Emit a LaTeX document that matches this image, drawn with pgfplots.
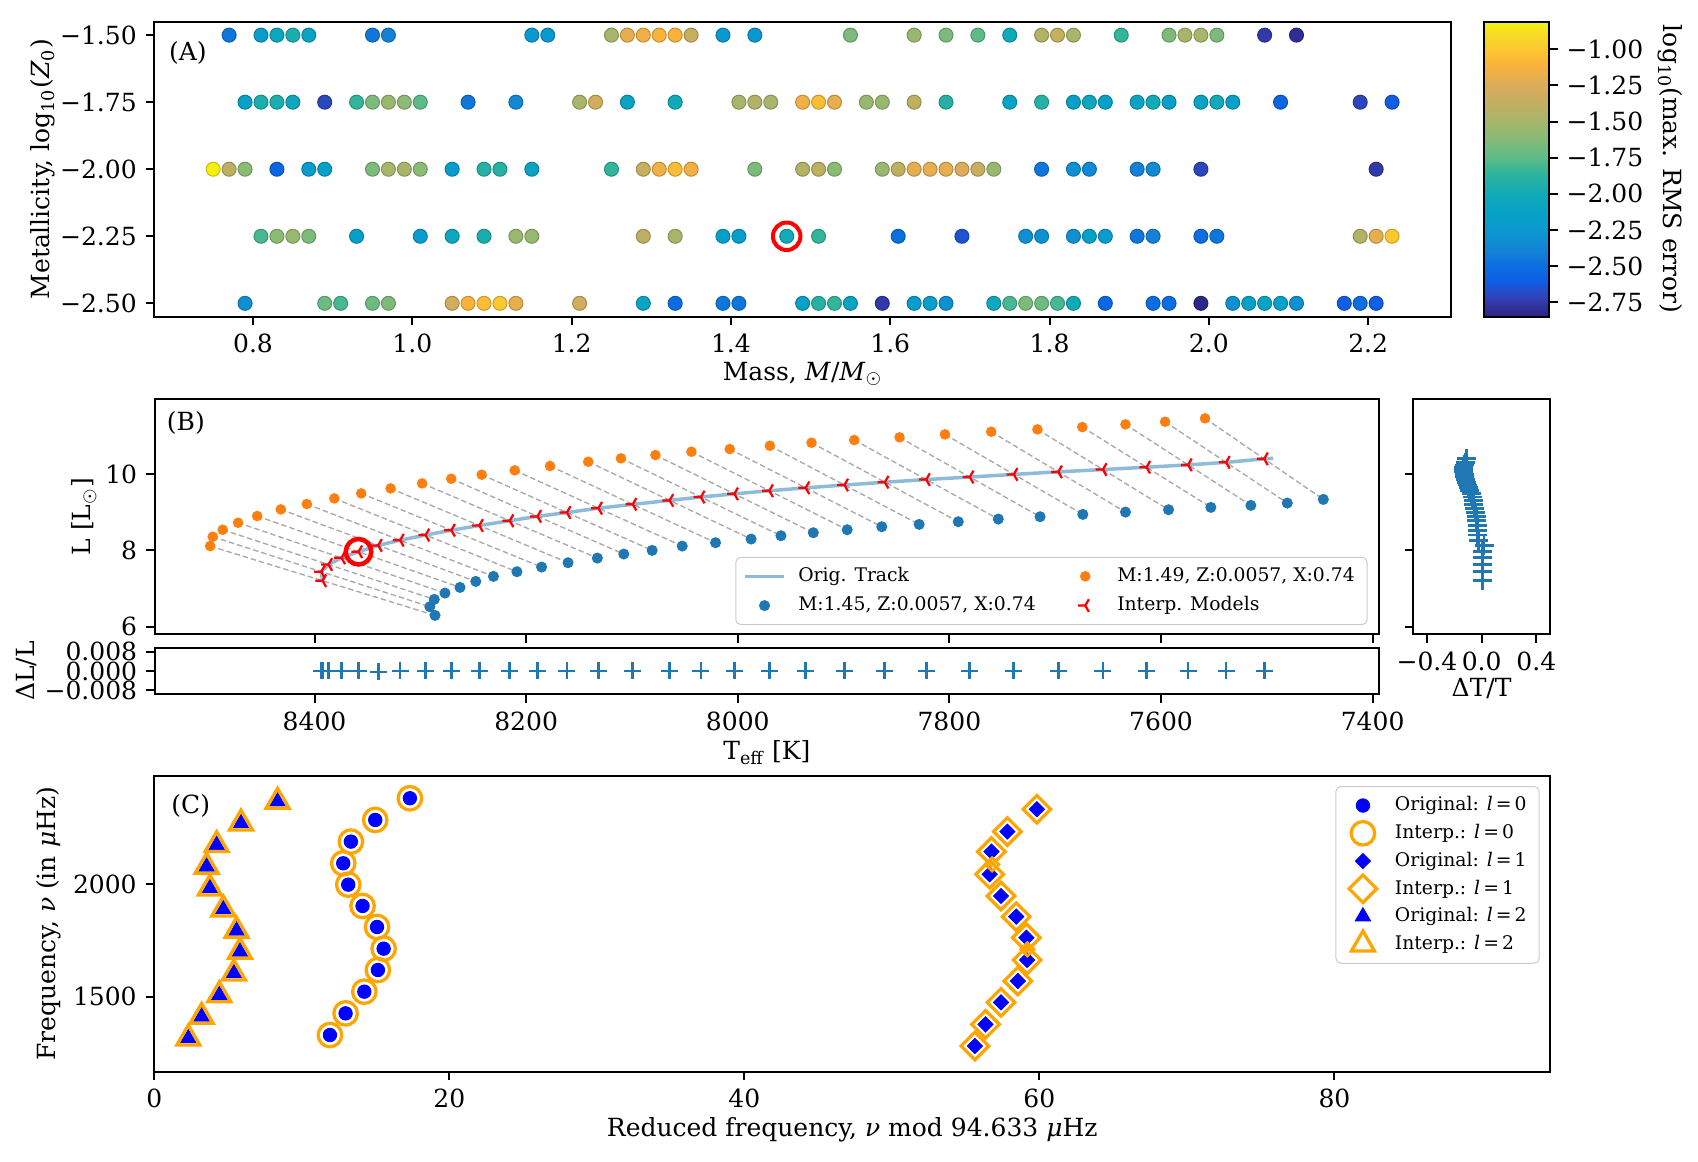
\documentclass[border=0pt]{standalone}
\usepackage{fontspec}
\setmainfont{DejaVu Serif}
\usepackage{pgfplots}
\usepackage{pgfplotstable}
\pgfplotsset{compat=1.18}
\usetikzlibrary{plotmarks}

\definecolor{tabblue}{RGB}{31,119,180}
\definecolor{taborange}{RGB}{255,127,14}
\definecolor{mplorange}{RGB}{255,165,0}
\definecolor{legframe}{RGB}{204,204,204}
\definecolor{dashgray}{RGB}{170,170,170}

\pgfplotsset{
  colormap={myparula}{
    rgb255(0pt)=(44,36,128);
    rgb255(10pt)=(51,57,168);
    rgb255(15pt)=(44,70,190);
    rgb255(25pt)=(15,94,227);
    rgb255(35pt)=(11,110,224);
    rgb255(45pt)=(20,129,214);
    rgb255(60pt)=(11,152,207);
    rgb255(70pt)=(7,160,201);
    rgb255(85pt)=(16,170,184);
    rgb255(100pt)=(50,181,154);
    rgb255(110pt)=(93,187,136);
    rgb255(125pt)=(140,187,116);
    rgb255(135pt)=(167,182,107);
    rgb255(145pt)=(189,176,99);
    rgb255(160pt)=(220,172,90);
    rgb255(175pt)=(251,178,58);
    rgb255(185pt)=(252,200,48);
    rgb255(195pt)=(247,218,40);
    rgb255(204pt)=(245,242,15)
  },
  myaxis/.style={
    scale only axis,
    axis line style={line width=0.8pt},
    every tick/.style={black, line width=0.8pt},
    major tick length=3.5pt,
    tick align=outside,
    xtick pos=left, ytick pos=left,
    scaled ticks=false,
    tick label style={font=\fontsize{10}{12}\selectfont},
    label style={font=\fontsize{10}{12}\selectfont},
  },
  mplmark/.style={legend image code/.code={\path[draw=none,fill=none] (0pt,0pt) (15.6pt,0pt); \draw[##1] plot coordinates {(7.8pt,0pt)};}},
  mplline/.style={legend image code/.code={\draw[##1] (0pt,0pt) -- (15.6pt,0pt);}},
}

\pgfplotstableread{
m z c
0.77 -1.5 -2.45
0.81 -1.5 -2.2
0.83 -1.5 -2.05
0.85 -1.5 -1.95
0.87 -1.5 -2.1
0.95 -1.5 -2.45
0.97 -1.5 -2.4
1.15 -1.5 -2.25
1.17 -1.5 -2.25
1.25 -1.5 -1.5
1.27 -1.5 -1.2
1.29 -1.5 -1.15
1.31 -1.5 -1.1
1.33 -1.5 -1.1
1.35 -1.5 -1.35
1.39 -1.5 -2.25
1.43 -1.5 -2.25
1.55 -1.5 -1.65
1.63 -1.5 -1.55
1.67 -1.5 -1.65
1.71 -1.5 -1.75
1.75 -1.5 -2.0
1.79 -1.5 -1.45
1.81 -1.5 -1.35
1.83 -1.5 -1.5
1.89 -1.5 -1.85
1.95 -1.5 -1.65
1.97 -1.5 -1.5
1.99 -1.5 -1.5
2.01 -1.5 -1.65
2.07 -1.5 -2.75
2.11 -1.5 -2.8
0.79 -1.75 -2.15
0.81 -1.75 -1.95
0.83 -1.75 -1.95
0.85 -1.75 -2.05
0.89 -1.75 -2.7
0.93 -1.75 -1.85
0.95 -1.75 -1.65
0.97 -1.75 -1.55
0.99 -1.75 -1.6
1.01 -1.75 -1.75
1.07 -1.75 -2.45
1.13 -1.75 -2.35
1.21 -1.75 -1.5
1.23 -1.75 -1.3
1.27 -1.75 -2.1
1.33 -1.75 -2.0
1.41 -1.75 -1.5
1.43 -1.75 -1.45
1.45 -1.75 -1.5
1.49 -1.75 -1.15
1.51 -1.75 -1.05
1.53 -1.75 -1.2
1.57 -1.75 -1.55
1.59 -1.75 -1.55
1.63 -1.75 -1.4
1.67 -1.75 -1.9
1.75 -1.75 -2.1
1.79 -1.75 -1.9
1.83 -1.75 -2.15
1.85 -1.75 -2.05
1.87 -1.75 -2.15
1.91 -1.75 -2.1
1.93 -1.75 -2.0
1.95 -1.75 -2.15
1.99 -1.75 -2.1
2.01 -1.75 -2.0
2.03 -1.75 -2.15
2.09 -1.75 -2.55
2.19 -1.75 -2.7
2.23 -1.75 -2.6
0.75 -2.0 -0.82
0.77 -2.0 -1.4
0.79 -2.0 -1.6
0.83 -2.0 -2.55
0.87 -2.0 -2.2
0.89 -2.0 -2.15
0.95 -2.0 -1.65
0.97 -2.0 -1.5
0.99 -2.0 -1.5
1.01 -2.0 -1.6
1.05 -2.0 -2.2
1.09 -2.0 -1.9
1.11 -2.0 -1.9
1.15 -2.0 -2.1
1.25 -2.0 -1.85
1.29 -2.0 -1.35
1.31 -2.0 -1.15
1.33 -2.0 -1.05
1.35 -2.0 -1.15
1.43 -2.0 -1.65
1.49 -2.0 -1.45
1.51 -2.0 -1.4
1.53 -2.0 -1.6
1.59 -2.0 -1.55
1.61 -2.0 -1.4
1.63 -2.0 -1.2
1.65 -2.0 -1.2
1.67 -2.0 -1.2
1.69 -2.0 -1.25
1.71 -2.0 -1.35
1.73 -2.0 -1.55
1.79 -2.0 -2.45
1.83 -2.0 -2.3
1.85 -2.0 -2.35
1.91 -2.0 -2.4
1.93 -2.0 -2.35
1.99 -2.0 -2.7
2.21 -2.0 -2.75
0.81 -2.25 -1.8
0.83 -2.25 -1.6
0.85 -2.25 -1.55
0.87 -2.25 -1.65
0.93 -2.25 -2.15
1.01 -2.25 -2.2
1.05 -2.25 -2.05
1.09 -2.25 -1.95
1.13 -2.25 -1.55
1.15 -2.25 -1.55
1.29 -2.25 -1.4
1.33 -2.25 -1.5
1.39 -2.25 -2.15
1.41 -2.25 -2.2
1.47 -2.25 -2.0
1.51 -2.25 -1.85
1.61 -2.25 -2.5
1.69 -2.25 -2.65
1.77 -2.25 -2.3
1.79 -2.25 -2.3
1.83 -2.25 -2.3
1.85 -2.25 -2.15
1.87 -2.25 -2.2
1.91 -2.25 -2.45
1.93 -2.25 -2.4
1.99 -2.25 -2.5
2.01 -2.25 -2.45
2.19 -2.25 -1.45
2.21 -2.25 -1.2
2.23 -2.25 -1.0
0.79 -2.5 -2.3
0.89 -2.5 -1.7
0.91 -2.5 -1.8
0.95 -2.5 -1.7
0.97 -2.5 -1.65
1.05 -2.5 -1.3
1.07 -2.5 -1.1
1.09 -2.5 -1.05
1.11 -2.5 -1.0
1.13 -2.5 -1.2
1.21 -2.5 -1.3
1.29 -2.5 -2.1
1.33 -2.5 -2.5
1.39 -2.5 -2.45
1.41 -2.5 -2.45
1.49 -2.5 -2.15
1.51 -2.5 -1.9
1.53 -2.5 -1.85
1.55 -2.5 -2.1
1.59 -2.5 -2.75
1.63 -2.5 -2.2
1.65 -2.5 -2.15
1.67 -2.5 -2.3
1.73 -2.5 -2.05
1.75 -2.5 -1.8
1.77 -2.5 -1.65
1.79 -2.5 -1.7
1.81 -2.5 -1.8
1.83 -2.5 -2.0
1.87 -2.5 -2.55
1.93 -2.5 -2.5
1.95 -2.5 -2.5
1.99 -2.5 -2.83
2.03 -2.5 -2.3
2.05 -2.5 -2.15
2.07 -2.5 -2.1
2.09 -2.5 -2.15
2.11 -2.5 -2.3
2.17 -2.5 -2.6
2.19 -2.5 -2.5
2.21 -2.5 -2.6
}\dataA

\pgfplotstableread{
T L
8498.6 8.113
8496.2 8.358
8486.8 8.541
8472.2 8.725
8454.2 8.900
8431.9 9.074
8407.3 9.214
8381.3 9.362
8355.9 9.493
8328.1 9.624
8298.3 9.755
8270.8 9.878
8242.0 9.983
8210.8 10.096
8177.4 10.210
8141.3 10.323
8110.4 10.411
8077.8 10.498
8043.8 10.585
8007.6 10.655
7969.7 10.742
7930.3 10.821
7889.9 10.891
7847.1 10.961
7804.2 11.039
7760.5 11.109
7716.8 11.170
7674.4 11.231
7633.6 11.301
7596.2 11.371
7558.4 11.459
}\orangeT

\pgfplotstableread{
T L
8286.1 6.297
8291.0 6.524
8286.8 6.716
8276.7 6.882
8262.5 7.030
8247.6 7.188
8230.9 7.319
8208.7 7.441
8185.4 7.563
8160.4 7.677
8132.7 7.799
8107.7 7.904
8080.9 8.000
8052.5 8.113
8021.0 8.201
7987.4 8.297
7959.2 8.384
7928.6 8.463
7896.6 8.541
7863.9 8.620
7828.6 8.681
7791.6 8.751
7753.8 8.821
7714.3 8.882
7673.9 8.943
7633.6 9.004
7592.9 9.065
7552.9 9.127
7515.1 9.179
7480.7 9.240
7446.6 9.336
}\blueT

\pgfplotstableread{
T L dT dL
8392.4 7.205 0.005 0
8393.6 7.441 0.005 0
8386.8 7.629 0.005 0
8374.5 7.804 0.006 0
8358.4 7.965 0.008 0
8339.8 8.131 0.018 -0.0004
8319.1 8.267 -0.022 0
8295.0 8.402 -0.028 0
8270.7 8.528 -0.031 0
8244.3 8.651 -0.033 0
8215.5 8.777 -0.036 0
8189.3 8.891 -0.040 0
8161.5 8.992 -0.044 0
8131.7 9.105 -0.050 0
8099.2 9.206 -0.056 0
8064.4 9.310 -0.063 0
8034.8 9.398 -0.070 0
8003.2 9.481 -0.077 0
7970.2 9.563 -0.090 0
7935.8 9.638 -0.098 0
7899.2 9.712 -0.105 0
7861.0 9.786 -0.112 0
7821.9 9.856 -0.118 0
7780.7 9.922 -0.124 0
7739.1 9.991 -0.128 0
7697.1 10.057 -0.132 0
7654.9 10.118 -0.135 0
7613.7 10.179 -0.135 0
7574.4 10.240 -0.128 0
7538.5 10.306 -0.118 0
7502.5 10.398 -0.110 0
}\interpT

\pgfplotstableread{
x nu
11.91 1329.9
12.97 1426.0
14.24 1522.2
15.16 1618.3
15.55 1713.0
15.10 1809.2
14.12 1902.4
13.15 1997.0
12.81 2091.7
13.33 2187.9
14.98 2284.0
17.33 2380.2
}\lzero

\pgfplotstableread{
x nu
55.63 1281.1
56.35 1377.2
57.40 1474.8
58.54 1569.5
59.17 1662.7
59.12 1761.8
58.43 1855.0
57.40 1946.7
56.63 2042.9
56.75 2143.5
57.83 2232.3
59.83 2331.4
}\lone

\pgfplotstableread{
x nu
2.31 1315.1
3.21 1411.2
4.41 1507.4
5.40 1603.6
5.81 1699.7
5.58 1792.9
4.68 1887.6
3.77 1980.8
3.55 2076.9
4.23 2173.1
5.88 2269.2
8.36 2365.4
}\ltwo

\begin{document}
\begin{tikzpicture}
\path[use as bounding box] (0,0) rectangle (679.2pt,464.8pt);

% ---------------- Panel A ----------------
\begin{axis}[myaxis,
  at={(61.7pt,338.1pt)}, anchor=south west,
  width=518.7pt, height=118pt,
  xmin=0.676, xmax=2.304, ymin=-2.55, ymax=-1.45,
  xtick={0.8,1,1.2,1.4,1.6,1.8,2,2.2},
  xticklabels={0.8,1.0,1.2,1.4,1.6,1.8,2.0,2.2},
  ytick={-1.5,-1.75,-2,-2.25,-2.5},
  yticklabels={−1.50,−1.75,−2.00,−2.25,−2.50},
  xlabel={Mass, \textit{M}/\textit{M}$_\odot$},
  ylabel={Metallicity, log\textsubscript{10}(\textit{Z}\textsubscript{0})},
  xlabel style={at={(axis description cs:0.5,-0.194)}, anchor=center},
  ylabel style={at={(axis description cs:-0.0858,0.5)}, anchor=center},
  colormap name=myparula,
  point meta min=-2.85, point meta max=-0.81,
]
\addplot[scatter, only marks, mark=*, mark size=2.8pt, scatter src=explicit]
  table[x=m, y=z, meta=c]{\dataA};
\addplot[only marks, mark=o, mark size=5.5pt, draw=red, line width=1.6pt]
  coordinates {(1.47,-2.25)};
\node[anchor=north west, inner sep=0pt, font=\fontsize{10}{12}\selectfont] at (axis description cs:0.011,0.935) {(A)};
\end{axis}

% ---------------- Colorbar ----------------
\begin{axis}[myaxis,
  at={(593.6pt,338.1pt)}, anchor=south west,
  width=26pt, height=118pt,
  xmin=0, xmax=1, ymin=-2.85, ymax=-0.81,
  xtick=\empty,
  ytick pos=right, yticklabel pos=right,
  ytick={-2.75,-2.5,-2.25,-2,-1.75,-1.5,-1.25,-1},
  yticklabels={−2.75,−2.50,−2.25,−2.00,−1.75,−1.50,−1.25,−1.00},
  colormap name=myparula,
  point meta min=-2.85, point meta max=-0.81,
  ylabel={log\textsubscript{10}(max. RMS error)},
  every axis y label/.style={at={(axis description cs:2.86,0.5)}, rotate=-90, anchor=center, font=\fontsize{10}{12}\selectfont},
  axis on top,
]
\addplot[surf, shader=interp, point meta=y, mesh/cols=2] coordinates {
(0,-2.85) (1,-2.85)
(0,-2.75) (1,-2.75)
(0,-2.70) (1,-2.70)
(0,-2.60) (1,-2.60)
(0,-2.50) (1,-2.50)
(0,-2.40) (1,-2.40)
(0,-2.25) (1,-2.25)
(0,-2.15) (1,-2.15)
(0,-2.00) (1,-2.00)
(0,-1.85) (1,-1.85)
(0,-1.75) (1,-1.75)
(0,-1.60) (1,-1.60)
(0,-1.50) (1,-1.50)
(0,-1.40) (1,-1.40)
(0,-1.25) (1,-1.25)
(0,-1.10) (1,-1.10)
(0,-1.00) (1,-1.00)
(0,-0.90) (1,-0.90)
(0,-0.81) (1,-0.81)
};
\end{axis}

% ---------------- Panel B main ----------------
\begin{axis}[myaxis,
  at={(61.9pt,211.2pt)}, anchor=south west,
  width=489.7pt, height=93.9pt,
  x dir=reverse,
  xmin=7394, xmax=8551, ymin=5.81, ymax=11.96,
  xtick={7400,7600,7800,8000,8200,8400}, xticklabels={},
  ytick={6,8,10}, yticklabels={6,8,10},
  ylabel={L [L$_\odot$]},
  ylabel style={at={(axis description cs:-0.0578,0.5)}, anchor=center},
  unbounded coords=jump,
  legend columns=2,
  legend cell align=left,
  legend style={at={(axis description cs:0.9908,0.038)}, anchor=south east,
    font=\fontsize{7.5}{9}\selectfont, draw=legframe, rounded corners=2pt, fill=white,
    row sep=0.5pt,
    /tikz/every odd column/.append style={column sep=3pt},
    /tikz/every even column/.append style={column sep=10pt}},
]
\addlegendimage{mplline, tabblue, opacity=0.5, line width=1.4pt}
\addlegendentry{Orig. Track}
\addlegendimage{mplmark, only marks, mark=*, taborange, mark size=1.9pt}
\addlegendentry{M:1.49, Z:0.0057, X:0.74}
\addlegendimage{mplmark, only marks, mark=*, tabblue, mark size=2pt}
\addlegendentry{M:1.45, Z:0.0057, X:0.74}
\addlegendimage{mplmark, only marks, mark=Mercedes star, mark options={rotate=90}, red, mark size=2.9pt, line width=0.9pt}
\addlegendentry{Interp. Models}

\addplot[forget plot, dashgray, line width=0.55pt, dash pattern=on 2.2pt off 1.2pt] coordinates {
(8498.6,8.113)(8286.1,6.297)(nan,nan)
(8496.2,8.358)(8291.0,6.524)(nan,nan)
(8486.8,8.541)(8286.8,6.716)(nan,nan)
(8472.2,8.725)(8276.7,6.882)(nan,nan)
(8454.2,8.900)(8262.5,7.030)(nan,nan)
(8431.9,9.074)(8247.6,7.188)(nan,nan)
(8407.3,9.214)(8230.9,7.319)(nan,nan)
(8381.3,9.362)(8208.7,7.441)(nan,nan)
(8355.9,9.493)(8185.4,7.563)(nan,nan)
(8328.1,9.624)(8160.4,7.677)(nan,nan)
(8298.3,9.755)(8132.7,7.799)(nan,nan)
(8270.8,9.878)(8107.7,7.904)(nan,nan)
(8242.0,9.983)(8080.9,8.000)(nan,nan)
(8210.8,10.096)(8052.5,8.113)(nan,nan)
(8177.4,10.210)(8021.0,8.201)(nan,nan)
(8141.3,10.323)(7987.4,8.297)(nan,nan)
(8110.4,10.411)(7959.2,8.384)(nan,nan)
(8077.8,10.498)(7928.6,8.463)(nan,nan)
(8043.8,10.585)(7896.6,8.541)(nan,nan)
(8007.6,10.655)(7863.9,8.620)(nan,nan)
(7969.7,10.742)(7828.6,8.681)(nan,nan)
(7930.3,10.821)(7791.6,8.751)(nan,nan)
(7889.9,10.891)(7753.8,8.821)(nan,nan)
(7847.1,10.961)(7714.3,8.882)(nan,nan)
(7804.2,11.039)(7673.9,8.943)(nan,nan)
(7760.5,11.109)(7633.6,9.004)(nan,nan)
(7716.8,11.170)(7592.9,9.065)(nan,nan)
(7674.4,11.231)(7552.9,9.127)(nan,nan)
(7633.6,11.301)(7515.1,9.179)(nan,nan)
(7596.2,11.371)(7480.7,9.240)(nan,nan)
(7558.4,11.459)(7446.6,9.336)
};
\addplot[forget plot, only marks, mark=*, taborange, mark size=1.9pt] table[x=T,y=L]{\orangeT};
\addplot[forget plot, only marks, mark=*, tabblue, mark size=2pt] table[x=T,y=L]{\blueT};
\addplot[forget plot, only marks, mark=Mercedes star, mark options={rotate=90}, red, mark size=2.9pt, line width=0.9pt] table[x=T,y=L]{\interpT};
\addplot[forget plot, tabblue, opacity=0.5, line width=1.4pt] table[x=T,y=L]{\interpT};
\addplot[forget plot, tabblue, opacity=0.5, line width=1.4pt] coordinates {(7502.5,10.398)(7494,10.412)};
\addplot[forget plot, only marks, mark=o, mark size=5.1pt, draw=red, line width=1.8pt]
  coordinates {(8358.4,7.965)};
\node[anchor=north west, inner sep=0pt, font=\fontsize{10}{12}\selectfont] at (axis description cs:0.0096,0.95) {(B)};
\end{axis}

% ---------------- Panel B residual dL/L ----------------
\begin{axis}[myaxis,
  at={(61.9pt,187.1pt)}, anchor=south west,
  width=489.7pt, height=18.6pt,
  x dir=reverse,
  xmin=7394, xmax=8551, ymin=-0.0097, ymax=0.0097,
  xtick={7400,7600,7800,8000,8200,8400},
  xticklabels={7400,7600,7800,8000,8200,8400},
  ytick={-0.008,0,0.008}, yticklabels={−0.008,0.000,0.008},
  xlabel={T\textsubscript{eff} [K]},
  ylabel={ΔL/L},
  xlabel style={at={(axis description cs:0.5,-1.26)}, anchor=center},
  ylabel style={at={(axis description cs:-0.1044,0.5)}, anchor=center},
]
\addplot[only marks, mark=+, tabblue, mark size=3.4pt, line width=1.1pt] table[x=T,y=dL]{\interpT};
\end{axis}

% ---------------- Panel B residual dT/T ----------------
\begin{axis}[myaxis,
  at={(565.3pt,211.2pt)}, anchor=south west,
  width=54.7pt, height=93.9pt,
  xmin=-0.5, xmax=0.5, ymin=5.81, ymax=11.96,
  xtick={-0.4,0,0.4}, xticklabels={−0.4,0.0,0.4},
  ytick={6,8,10}, yticklabels={},
  xlabel={ΔT/T},
  xlabel style={at={(axis description cs:0.5,-0.234)}, anchor=center},
]
\addplot[only marks, mark=+, tabblue, mark size=3.8pt, line width=1.1pt] table[x=dT,y=L]{\interpT};
\end{axis}

% ---------------- Panel C ----------------
\begin{axis}[myaxis,
  at={(61.7pt,36.1pt)}, anchor=south west,
  width=558.4pt, height=118.3pt,
  xmin=0, xmax=94.633, ymin=1167, ymax=2479,
  xtick={0,20,40,60,80}, xticklabels={0,20,40,60,80},
  ytick={1500,2000}, yticklabels={1500,2000},
  xlabel={Reduced frequency, \textit{ν} mod 94.633 \textit{μ}Hz},
  ylabel={Frequency, \textit{ν} (in \textit{μ}Hz)},
  xlabel style={at={(axis description cs:0.5,-0.197)}, anchor=center},
  ylabel style={at={(axis description cs:-0.0754,0.5)}, anchor=center},
  legend cell align=left,
  legend style={at={(axis description cs:0.9924,0.966)}, anchor=north east,
    font=\fontsize{7.5}{9}\selectfont, draw=legframe, rounded corners=2pt, fill=white,
    row sep=-0.1pt,
    /tikz/every odd column/.append style={column sep=3pt}},
]
\addlegendimage{mplmark, only marks, mark=*, blue, mark size=2.67pt}
\addlegendentry{Original: \textit{l}\,=\,0}
\addlegendimage{mplmark, only marks, mark=o, mplorange, mark size=4.7pt, line width=1.3pt}
\addlegendentry{Interp.: \textit{l}\,=\,0}
\addlegendimage{mplmark, only marks, mark=square*, mark options={rotate=45}, blue, mark size=2.12pt}
\addlegendentry{Original: \textit{l}\,=\,1}
\addlegendimage{mplmark, only marks, mark=square, mark options={rotate=45}, mplorange, mark size=3.9pt, line width=1.3pt}
\addlegendentry{Interp.: \textit{l}\,=\,1}
\addlegendimage{mplmark, only marks, mark=triangle*, blue, mark size=3.5pt}
\addlegendentry{Original: \textit{l}\,=\,2}
\addlegendimage{mplmark, only marks, mark=triangle, mplorange, mark size=5.3pt, line width=1.3pt}
\addlegendentry{Interp.: \textit{l}\,=\,2}

\addplot[forget plot, only marks, mark=*, blue, mark size=2.67pt] table[x=x,y=nu]{\lzero};
\addplot[forget plot, only marks, mark=o, mplorange, mark size=4.7pt, line width=1.3pt] table[x=x,y=nu]{\lzero};
\addplot[forget plot, only marks, mark=square*, mark options={rotate=45}, blue, mark size=2.12pt] table[x=x,y=nu]{\lone};
\addplot[forget plot, only marks, mark=square, mark options={rotate=45}, mplorange, mark size=3.9pt, line width=1.3pt] table[x=x,y=nu]{\lone};
\addplot[forget plot, only marks, mark=square, mark options={rotate=45}, mplorange, mark size=1.9pt, line width=1.1pt] coordinates {(56.80,2087) (59.19,1710)};
\addplot[forget plot, only marks, mark=triangle*, blue, mark size=3.5pt] table[x=x,y=nu]{\ltwo};
\addplot[forget plot, only marks, mark=triangle, mplorange, mark size=5.3pt, line width=1.3pt] table[x=x,y=nu]{\ltwo};
\node[anchor=north west, inner sep=0pt, font=\fontsize{10}{12}\selectfont] at (axis description cs:0.012,0.94) {(C)};
\end{axis}
\end{tikzpicture}
\end{document}
